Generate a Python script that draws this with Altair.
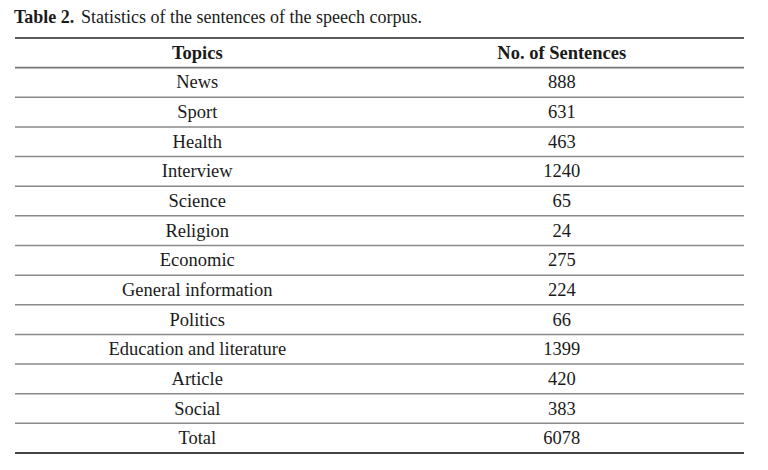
import altair as alt
import pandas as pd

topics = ["News", "Sport", "Health", "Interview", "Science", "Religion", "Economic",
          "General information", "Politics", "Education and literature", "Article",
          "Social", "Total"]
sentences = [888, 631, 463, 1240, 65, 24, 275, 224, 66, 1399, 420, 383, 6078]
headers = ["Topics", "No. of Sentences"]
title_bold = "Table 2."
title_rest = "Statistics of the sentences of the speech corpus."

W = 729
H = 415
FONT = "Liberation Serif"
n_rows = len(topics) + 1

rows = []
for i, (t, s) in enumerate(zip(topics, sentences)):
    rows.append({"row": i + 1.5, "col": headers[0], "txt": t})
    rows.append({"row": i + 1.5, "col": headers[1], "txt": str(s)})
body = pd.DataFrame(rows)
head = pd.DataFrame({"row": [0.5, 0.5], "col": headers, "txt": headers})

ysc = alt.Scale(domain=[0, n_rows], range=[0, H])
xsc = alt.Scale(domain=headers, paddingInner=0, paddingOuter=0)

x_enc = alt.X("col:N", scale=xsc, axis=None, sort=headers)
y_enc = alt.Y("row:Q", scale=ysc, axis=None)

body_text = alt.Chart(body).mark_text(font=FONT, fontSize=18.5, color="#1a1a1a", baseline="middle").encode(
    x=x_enc, y=y_enc, text="txt:N")
head_text = alt.Chart(head).mark_text(font=FONT, fontSize=18.5, fontWeight="bold", color="#1a1a1a", baseline="middle").encode(
    x=x_enc, y=y_enc, text="txt:N")

inner = pd.DataFrame({"r": list(range(2, n_rows))})
inner_rules = alt.Chart(inner).mark_rule(color="#8a8a8a", strokeWidth=1.5).encode(
    y=alt.Y("r:Q", scale=ysc, axis=None), x=alt.value(0), x2=alt.value(W))
head_rule = alt.Chart(pd.DataFrame({"r": [1]})).mark_rule(color="#777777", strokeWidth=1.6).encode(
    y=alt.Y("r:Q", scale=ysc, axis=None), x=alt.value(0), x2=alt.value(W))
top_rule = alt.Chart(pd.DataFrame({"r": [0]})).mark_rule(color="#222222", strokeWidth=1.4).encode(
    y=alt.Y("r:Q", scale=ysc, axis=None), x=alt.value(0), x2=alt.value(W))
bot_rule = alt.Chart(pd.DataFrame({"r": [n_rows]})).mark_rule(color="#444444", strokeWidth=2).encode(
    y=alt.Y("r:Q", scale=ysc, axis=None), x=alt.value(0), x2=alt.value(W))

t1 = alt.Chart(pd.DataFrame({"t": [title_bold]})).mark_text(
    font=FONT, fontSize=18, fontWeight="bold", color="#1a1a1a", align="left", baseline="middle").encode(
    x=alt.value(-1), y=alt.value(-20), text="t:N")
t2 = alt.Chart(pd.DataFrame({"t": [title_rest]})).mark_text(
    font=FONT, fontSize=18, color="#1a1a1a", align="left", baseline="middle").encode(
    x=alt.value(66), y=alt.value(-20), text="t:N")

chart = alt.layer(inner_rules, head_rule, top_rule, bot_rule, body_text, head_text, t1, t2).properties(
    width=W, height=H, padding={"left": 7, "top": 30, "right": 8, "bottom": 8},
    autosize=alt.AutoSizeParams(type="none")
).configure(background="white", view=alt.ViewConfig(stroke=None))

chart.save("out.html", embed_options={"renderer": "svg", "actions": False})
